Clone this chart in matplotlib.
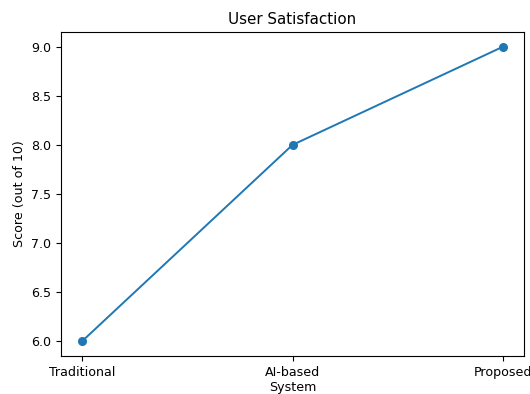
import matplotlib
matplotlib.use("Agg")
import matplotlib.pyplot as plt

systems = ["Traditional", "AI-based", "Proposed"]
scores = [6, 8, 9]

plt.rcParams["font.size"] = 9.1
fig = plt.figure(figsize=(5.3, 3.94), dpi=100)
ax = fig.add_axes([61/530, 1-356/394, (524-61)/530, (356-32)/394])
ax.plot(systems, scores, marker="o", markersize=5.5, linewidth=1.4)
ax.set_title("User Satisfaction", fontsize=10.9, pad=5.5)
ax.set_xlabel("System", labelpad=2)
ax.set_ylabel("Score (out of 10)")
fig.savefig("out.png", dpi=100)
